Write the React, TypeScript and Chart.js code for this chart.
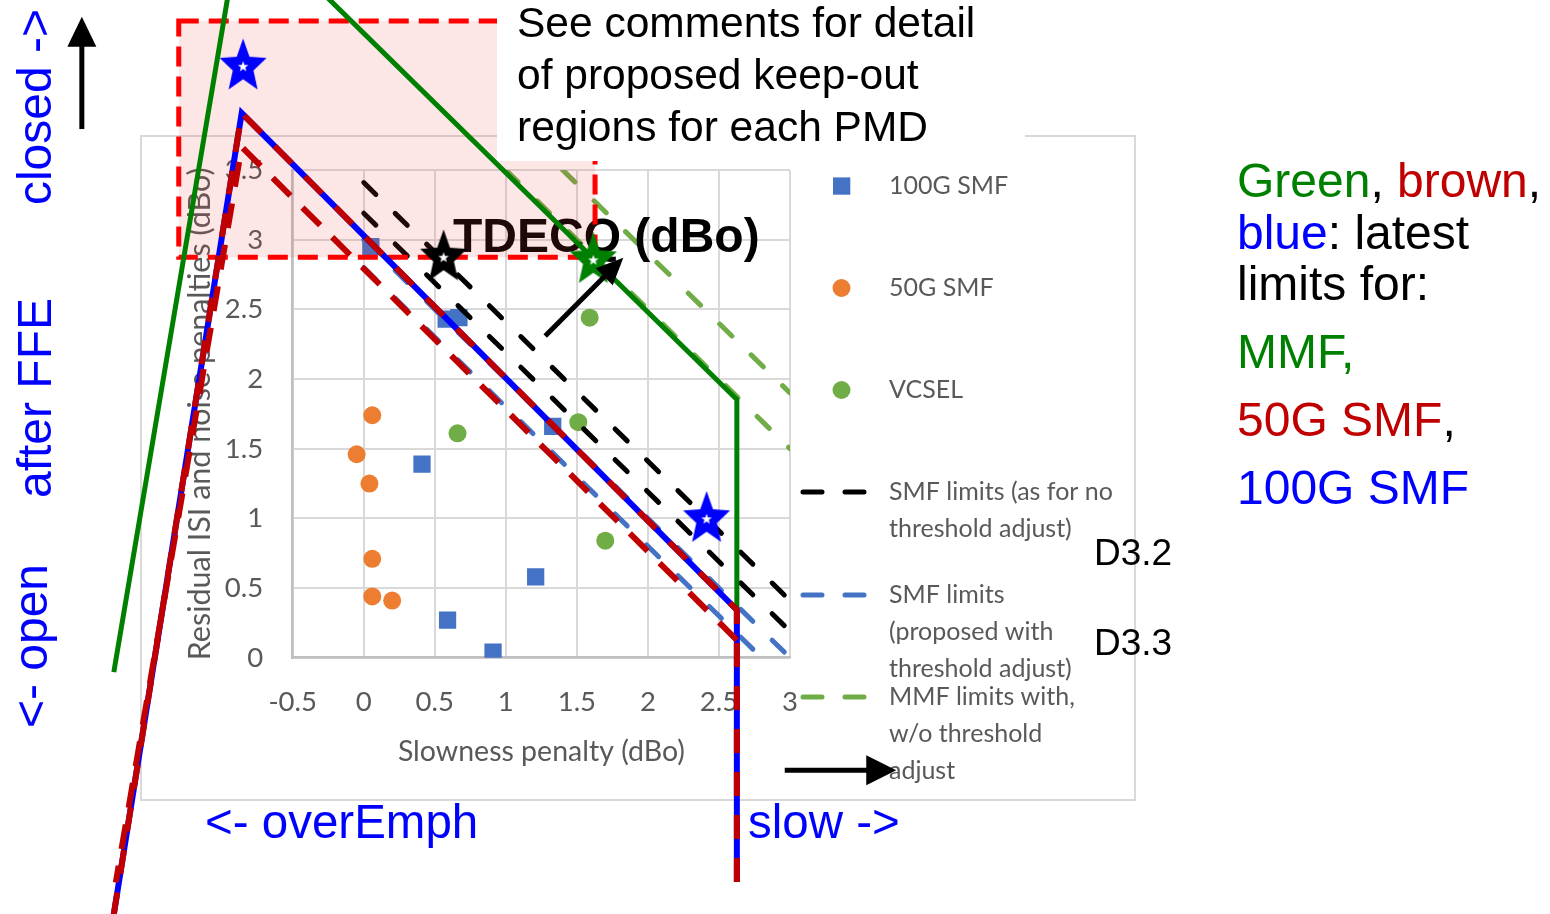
import React, { useEffect, useRef } from 'react';
import { Chart, registerables } from 'chart.js';

Chart.register(...registerables);

const W = 1550;
const H = 914;

// ---------- axes ----------
const xMin = -0.5;
const xMax = 3;
const yMin = 0;
const yMax = 3.5;
const tickStep = 0.5;

// ---------- measured points ----------
const smf100X = [0.05, 0.58, 0.67, 0.41, 1.33, 1.21, 0.59, 0.91];
const smf100Y = [2.95, 2.43, 2.44, 1.39, 1.66, 0.58, 0.27, 0.04];
const smf50X = [0.06, -0.05, 0.04, 0.06, 0.06, 0.2];
const smf50Y = [1.74, 1.46, 1.25, 0.71, 0.44, 0.41];
const vcselX = [0.66, 1.51, 1.59, 1.7];
const vcselY = [1.61, 1.69, 2.44, 0.84];

// ---------- limit lines of the original chart (null = break between two lines) ----------
const smfNoAdjX = [0, 3, null, 0, 3];
const smfNoAdjY = [3.41, 0.41, null, 3.19, 0.19];
const smfAdjX = [0, 3, null, 0, 2.8];
const smfAdjY = [3.0, 0, null, 2.8, 0];
const mmfX = [1.4, 3, null, 1.0, 3];
const mmfY = [3.5, 1.9, null, 3.5, 1.5];

// ---------- latest limits drawn over the chart ----------
const mmfLatestX = [2.626, 2.626, -0.858, -1.759];
const mmfLatestY = [0.34, 1.853, 5.34, -0.103];
const smfLatestX = [2.626, 2.626, -0.859, -1.793];
const smfLatestY = [-1.61, 0.343, 3.909, -2.058];
const smf50LowerX = [2.626, -0.859, -1.745];
const smf50LowerY = [0.127, 3.665, -1.613];

// ---------- stars ----------
const starX = [-0.849, 0.562, 1.616, 2.413];
const starY = [4.241, 2.871, 2.852, 0.994];
const starColors = ['#0000FF', '#000000', '#008000', '#0000FF'];

// ---------- keep-out region & arrows (data units) ----------
const keepOutX = [-1.302, 1.628];
const keepOutY = [2.873, 4.57];
const arrowTDECQ = [1.277, 2.308, 1.827, 2.871];
const arrowUp = [-1.984, 3.794, -1.984, 4.599];
const arrowRight = [2.963, -0.807, 3.748, -0.807];

// ---------- legend ----------
const legendLabels = [
  ['100G SMF'],
  ['50G SMF'],
  ['VCSEL'],
  ['SMF limits (as for no', 'threshold adjust)'],
  ['SMF limits', '(proposed with', 'threshold adjust)'],
  ['MMF limits with,', 'w/o threshold', 'adjust'],
];

const BLUE = '#4472C4';
const ORANGE = '#ED7D31';
const GREEN = '#70AD47';
const EXCEL_TEXT = '#595959';
const EXCEL_FONT = 'Lato';
const PPT_FONT = '"Liberation Sans", Arial, sans-serif';

const pts = (xs: (number | null)[], ys: (number | null)[]) =>
  xs.map((x, i) => ({ x: x as any, y: ys[i] as any }));

function makeStar(color: string): HTMLCanvasElement {
  const c = document.createElement('canvas');
  c.width = 56;
  c.height = 62;
  const ctx = c.getContext('2d') as CanvasRenderingContext2D;
  const star = (cx: number, cy: number, R: number, sy: number, ratio: number, fill: string) => {
    const r = R * ratio;
    ctx.beginPath();
    for (let i = 0; i < 10; i++) {
      const a = (i * Math.PI) / 5;
      const rad = i % 2 === 0 ? R : r;
      const x = cx + rad * Math.sin(a);
      const y = cy - rad * Math.cos(a) * sy;
      if (i === 0) ctx.moveTo(x, y);
      else ctx.lineTo(x, y);
    }
    ctx.closePath();
    ctx.fillStyle = fill;
    ctx.fill();
  };
  star(28, 31, 24.7, 1.14, 0.44, color);
  star(28, 31, 5.5, 1.0, 0.42, '#ffffff');
  return c;
}

function drawArrow(ctx: CanvasRenderingContext2D, x1: number, y1: number, x2: number, y2: number, head: number, half: number, lw: number) {
  const ang = Math.atan2(y2 - y1, x2 - x1);
  const bx = x2 - head * Math.cos(ang);
  const by = y2 - head * Math.sin(ang);
  ctx.strokeStyle = '#000';
  ctx.fillStyle = '#000';
  ctx.lineWidth = lw;
  ctx.setLineDash([]);
  ctx.beginPath();
  ctx.moveTo(x1, y1);
  ctx.lineTo(bx + Math.cos(ang), by + Math.sin(ang));
  ctx.stroke();
  ctx.beginPath();
  ctx.moveTo(x2, y2);
  ctx.lineTo(bx + half * Math.sin(ang), by - half * Math.cos(ang));
  ctx.lineTo(bx - half * Math.sin(ang), by + half * Math.cos(ang));
  ctx.closePath();
  ctx.fill();
}

const overlayPlugin = {
  id: 'slideOverlay',
  beforeDraw(chart: any) {
    const ctx: CanvasRenderingContext2D = chart.ctx;
    ctx.save();
    ctx.fillStyle = '#ffffff';
    ctx.fillRect(0, 0, chart.width, chart.height);
    ctx.strokeStyle = '#d9d9d9';
    ctx.lineWidth = 2;
    ctx.strokeRect(141, 136, 994, 664);
    ctx.restore();
  },
  beforeDatasetsDraw(chart: any) {
    // legend of the original chart
    const ctx: CanvasRenderingContext2D = chart.ctx;
    const rows = [186, 288, 390, 492, 595, 697];
    ctx.save();
    legendLabels.forEach((lines, i) => {
      const y = rows[i];
      if (i === 0) {
        ctx.fillStyle = BLUE;
        ctx.fillRect(833, y - 8.6, 17.3, 17.3);
      } else if (i === 1 || i === 2) {
        ctx.fillStyle = i === 1 ? ORANGE : GREEN;
        ctx.beginPath();
        ctx.arc(841.5, y, 9, 0, Math.PI * 2);
        ctx.fill();
      } else {
        ctx.strokeStyle = i === 3 ? '#000000' : i === 4 ? BLUE : GREEN;
        ctx.lineWidth = 5;
        ctx.lineCap = 'round';
        ctx.setLineDash([19, 23]);
        ctx.beginPath();
        ctx.moveTo(803, y);
        ctx.lineTo(866, y);
        ctx.stroke();
        ctx.setLineDash([]);
      }
      ctx.fillStyle = EXCEL_TEXT;
      ctx.font = `25px ${EXCEL_FONT}`;
      ctx.textAlign = 'left';
      ctx.textBaseline = 'middle';
      lines.forEach((t, k) => ctx.fillText(t, 889, y + k * 37));
    });
    ctx.restore();
  },
  beforeDatasetDraw(chart: any, args: any) {
    if (chart.data.datasets[args.index].label !== 'MMF latest') return;
    const ctx: CanvasRenderingContext2D = chart.ctx;
    const xs = chart.scales.x;
    const ys = chart.scales.y;
    ctx.save();
    ctx.fillStyle = '#000';
    ctx.font = `bold 48px ${PPT_FONT}`;
    ctx.textAlign = 'left';
    ctx.textBaseline = 'alphabetic';
    ctx.fillText('TDECQ (dBo)', 453, 252);
    const x1 = xs.getPixelForValue(keepOutX[0]);
    const x2 = xs.getPixelForValue(keepOutX[1]);
    const y1 = ys.getPixelForValue(keepOutY[1]);
    const y2 = ys.getPixelForValue(keepOutY[0]);
    ctx.fillStyle = 'rgba(240,60,60,0.13)';
    ctx.fillRect(x1, y1, x2 - x1, y2 - y1);
    ctx.strokeStyle = '#FF0000';
    ctx.lineWidth = 5;
    ctx.setLineDash([20, 10]);
    ctx.strokeRect(x1, y1, x2 - x1, y2 - y1);
    ctx.setLineDash([]);
    // comment text box
    ctx.fillStyle = '#ffffff';
    ctx.fillRect(497, 0, 528, 161);
    ctx.fillStyle = '#000';
    ctx.font = `42.5px ${PPT_FONT}`;
    ctx.fillText('See comments for detail', 517, 37);
    ctx.fillText('of proposed keep-out', 517, 89);
    ctx.fillText('regions for each PMD', 517, 141);
    ctx.restore();
  },
  afterDraw(chart: any) {
    const ctx: CanvasRenderingContext2D = chart.ctx;
    const xs = chart.scales.x;
    const ys = chart.scales.y;
    ctx.save();
    const arr = (a: number[], head: number, half: number) =>
      drawArrow(ctx, xs.getPixelForValue(a[0]), ys.getPixelForValue(a[1]), xs.getPixelForValue(a[2]), ys.getPixelForValue(a[3]), head, half, 5);
    arr(arrowTDECQ, 27, 12);
    arr(arrowUp, 30, 14.5);
    arr(arrowRight, 30, 15);

    // rotated side labels
    ctx.fillStyle = '#0000FF';
    ctx.font = `48px ${PPT_FONT}`;
    ctx.textAlign = 'center';
    ctx.textBaseline = 'alphabetic';
    const rot = (t: string, bx: number, cy: number) => {
      ctx.save();
      ctx.translate(bx, cy);
      ctx.rotate(-Math.PI / 2);
      ctx.fillText(t, 0, 0);
      ctx.restore();
    };
    rot('closed ->', 51, 107);
    rot('after FFE', 51, 398);
    rot('<- open', 47, 646);

    ctx.textAlign = 'left';
    ctx.font = `47.5px ${PPT_FONT}`;
    ctx.fillText('<- overEmph', 205, 838);
    ctx.fillText('slow ->', 748, 838);

    ctx.fillStyle = '#000';
    ctx.font = `37px ${PPT_FONT}`;
    ctx.fillText('D3.2', 1094, 565);
    ctx.fillText('D3.3', 1094, 655);

    // colour key text
    ctx.font = `48px ${PPT_FONT}`;
    const block: [string, string][][] = [
      [['Green', '#008000'], [', ', '#000000'], ['brown', '#C00000'], [',', '#000000']],
      [['blue', '#0000FF'], [': latest', '#000000']],
      [['limits for:', '#000000']],
      [['MMF,', '#008000']],
      [['50G SMF', '#C00000'], [',', '#000000']],
      [['100G SMF', '#0000FF']],
    ];
    const baselines = [197, 248.5, 299.5, 367.5, 436, 504];
    block.forEach((runs, i) => {
      let x = 1237;
      runs.forEach(([t, c]) => {
        ctx.fillStyle = c;
        ctx.fillText(t, x, baselines[i]);
        x += ctx.measureText(t).width;
      });
    });
    ctx.restore();
  },
};

export default function App() {
  const ref = useRef<HTMLCanvasElement | null>(null);

  useEffect(() => {
    if (!ref.current) return;
    const stars = starColors.map(makeStar);
    const fmt = (v: any) => String(Math.round(Number(v) * 10) / 10);

    const excelLine = (label: string, xs: any[], ys: any[], color: string, order: number) => ({
      label,
      data: pts(xs, ys),
      showLine: true,
      borderColor: color,
      borderWidth: 5,
      borderDash: [17, 27],
      borderCapStyle: 'round',
      pointRadius: 0,
      order,
    });

    const chart = new Chart(ref.current, {
      type: 'scatter',
      data: {
        datasets: [
          { label: '100G SMF', data: pts(smf100X, smf100Y), pointStyle: 'rect', pointRadius: 12.2, backgroundColor: BLUE, borderColor: BLUE, borderWidth: 0, order: 15 },
          { label: '50G SMF', data: pts(smf50X, smf50Y), pointStyle: 'circle', pointRadius: 9, backgroundColor: ORANGE, borderColor: ORANGE, borderWidth: 0, order: 14 },
          { label: 'VCSEL', data: pts(vcselX, vcselY), pointStyle: 'circle', pointRadius: 9, backgroundColor: GREEN, borderColor: GREEN, borderWidth: 0, order: 13 },
          excelLine('SMF limits (as for no threshold adjust)', smfNoAdjX, smfNoAdjY, '#000000', 12),
          excelLine('SMF limits (proposed with threshold adjust)', smfAdjX, smfAdjY, BLUE, 11),
          excelLine('MMF limits with, w/o threshold adjust', mmfX, mmfY, GREEN, 10),
          { label: 'MMF latest', data: pts(mmfLatestX, mmfLatestY), showLine: true, borderColor: '#008000', borderWidth: 5, pointRadius: 0, clip: false, order: 4 },
          { label: '100G SMF latest', data: pts(smfLatestX, smfLatestY), showLine: true, borderColor: '#0000FF', borderWidth: 6, pointRadius: 0, clip: false, order: 3 },
          { label: '50G SMF latest', data: pts(smfLatestX, smfLatestY), showLine: true, borderColor: '#C00000', borderWidth: 6, borderDash: [24, 19], pointRadius: 0, clip: false, order: 2 },
          { label: '50G SMF latest (lower)', data: pts(smf50LowerX, smf50LowerY), showLine: true, borderColor: '#C00000', borderWidth: 6, borderDash: [25, 17], pointRadius: 0, clip: false, order: 1 },
          { label: 'stars', data: pts(starX, starY), pointStyle: stars as any, pointRadius: 130, borderWidth: 0, clip: false, order: 0 },
        ] as any,
      },
      options: {
        responsive: false,
        animation: false,
        events: [],
        devicePixelRatio: 1,
        layout: { padding: { left: 0, right: W - 790, top: 170, bottom: H - 657.7 - 120 } },
        plugins: { legend: { display: false }, tooltip: { enabled: false }, title: { display: false } },
        scales: {
          x: {
            type: 'linear',
            min: xMin,
            max: xMax,
            ticks: { stepSize: tickStep, padding: 27.8, color: EXCEL_TEXT, font: { size: 27.5, family: EXCEL_FONT }, callback: fmt, autoSkip: false, maxRotation: 0 },
            grid: { color: '#d9d9d9', lineWidth: 2, drawTicks: false },
            border: { color: '#bfbfbf', width: 2.5 },
            title: { display: true, text: 'Slowness penalty (dBo)', color: EXCEL_TEXT, font: { size: 28.5, family: EXCEL_FONT }, padding: { top: 0, bottom: 8.6 } },
            afterFit: (s: any) => { s.height = 120; s.paddingLeft = 0; s.paddingRight = 0; },
          },
          y: {
            type: 'linear',
            min: yMin,
            max: yMax,
            ticks: { stepSize: tickStep, padding: 29.5, color: EXCEL_TEXT, font: { size: 27.5, family: EXCEL_FONT }, callback: fmt, autoSkip: false },
            grid: { color: '#d9d9d9', lineWidth: 2, drawTicks: false },
            border: { color: '#bfbfbf', width: 2.5 },
            title: { display: true, text: 'Residual ISI and noise penalties (dBo)', color: EXCEL_TEXT, font: { size: 30.5, family: EXCEL_FONT }, padding: { top: 181.7, bottom: 0 } },
            afterFit: (s: any) => { s.width = 292.7; s.paddingTop = 0; s.paddingBottom = 0; },
          },
        },
      } as any,
      plugins: [overlayPlugin as any],
    });
    return () => chart.destroy();
  }, []);

  return (
    <div style={{ position: 'absolute', left: 0, top: 0, width: W, height: H, overflow: 'hidden' }}>
      <canvas ref={ref} width={W} height={H} style={{ display: 'block' }} />
    </div>
  );
}
